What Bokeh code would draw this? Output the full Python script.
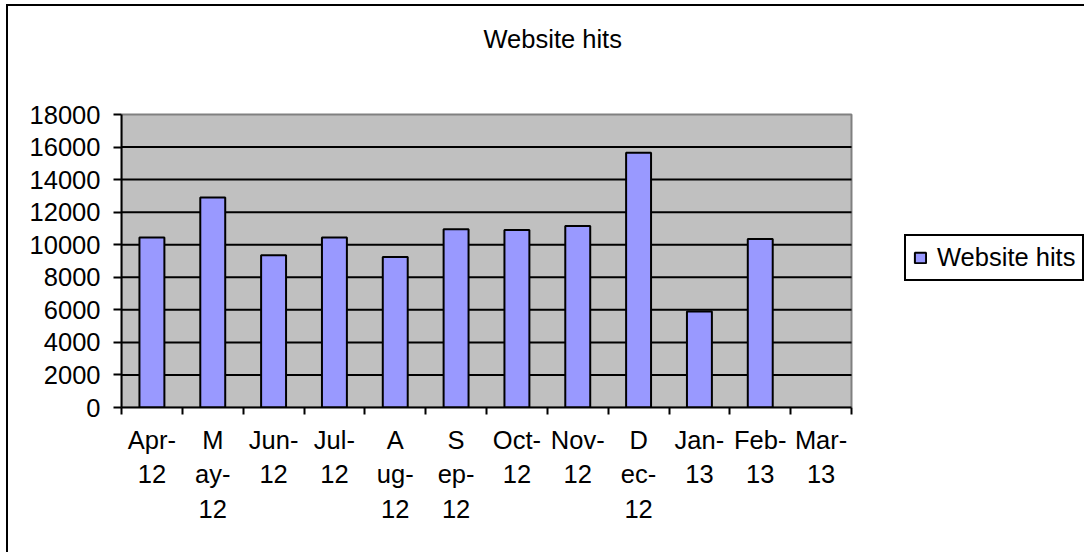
from bokeh.plotting import figure
from bokeh.models import (FixedTicker, Range1d, Legend, LegendItem, Label,
                          ColumnDataSource)
from bokeh.embed import file_html
from bokeh.resources import INLINE

# ---- data ----
months = ["Apr-12", "May-12", "Jun-12", "Jul-12", "Aug-12", "Sep-12",
          "Oct-12", "Nov-12", "Dec-12", "Jan-13", "Feb-13", "Mar-13"]
month_labels = ["Apr-\n12", "M\nay-\n12", "Jun-\n12", "Jul-\n12", "A\nug-\n12",
                "S\nep-\n12", "Oct-\n12", "Nov-\n12", "D\nec-\n12", "Jan-\n13",
                "Feb-\n13", "Mar-\n13"]
hits = [10450, 12900, 9350, 10450, 9250, 10950, 10900, 11150, 15650, 5900, 10350]
y_ticks = [0, 2000, 4000, 6000, 8000, 10000, 12000, 14000, 16000, 18000]
chart_title = "Website hits"
series_name = "Website hits"

# ---- layout / style ----
FONT = "Liberation Sans"
FS = "25.5px"
W, H = 1078, 548            # canvas size
LEFT, BOTTOM = 113, 147     # room for the axes
AREA_W, AREA_H = 730, 293   # pixel size of the grey plot area

n = len(months)
y_max = y_ticks[-1]
frame_w, frame_h = W - LEFT, H - BOTTOM
x_end = n * frame_w / AREA_W
y_end = y_max * frame_h / AREA_H

centers = [i + 0.5 for i in range(n)]
bounds = [i for i in range(n + 1)]

src = ColumnDataSource(dict(x=centers[:len(hits)], top=hits, month=months[:len(hits)]))
grid_src = ColumnDataSource(dict(y=y_ticks[1:-1]))

p = figure(width=W, height=H,
           x_range=Range1d(0, x_end), y_range=Range1d(0, y_end),
           output_backend="svg", toolbar_location=None,
           min_border_left=LEFT, min_border_right=0,
           min_border_top=0, min_border_bottom=BOTTOM,
           background_fill_color="white", border_fill_color="white",
           outline_line_color=None)
p.margin = (4, 0, 0, 6)
p.styles = {"border-left": "2px solid black", "border-top": "2px solid black",
            "border-right": "none", "border-bottom": "none"}
p.xgrid.grid_line_color = None
p.ygrid.grid_line_color = None

# grey plot area with its darker top/right edge
p.quad(left=0, right=n, bottom=0, top=y_max,
       fill_color="#C0C0C0", line_color="#808080", line_width=2)
# horizontal gridlines
p.segment(x0=0, x1=n, y0="y", y1="y", source=grid_src,
          line_color="black", line_width=2)

r = p.vbar(x="x", top="top", bottom=0, width=0.41, source=src,
           fill_color="#9999FF", line_color="black", line_width=2)

# y axis
ya = p.yaxis[0]
ya.bounds = (0, y_max)
ya.ticker = FixedTicker(ticks=y_ticks)
ya.axis_line_color = "black"
ya.axis_line_width = 2
ya.major_tick_out = 8
ya.major_tick_in = 0
ya.major_tick_line_width = 2
ya.minor_tick_line_color = None
ya.major_label_text_font = FONT
ya.major_label_text_font_size = FS
ya.major_label_text_color = "black"
ya.major_label_standoff = 13

# x axis
xa = p.xaxis[0]
xa.bounds = (0, n)
xa.ticker = FixedTicker(ticks=centers, minor_ticks=bounds)
xa.major_label_overrides = {c: lab for c, lab in zip(centers, month_labels)}
xa.axis_line_color = "black"
xa.axis_line_width = 2
xa.major_tick_out = 0
xa.major_tick_in = 0
xa.minor_tick_out = 7
xa.minor_tick_in = 0
xa.minor_tick_line_width = 2
xa.minor_tick_line_color = "black"
xa.major_label_text_font = FONT
xa.major_label_text_font_size = FS
xa.major_label_text_color = "black"
xa.major_label_text_line_height = 1.24
xa.major_label_standoff = 11

# title
p.add_layout(Label(x=362, y=369, x_units="screen", y_units="screen",
                   text=chart_title, text_align="left", text_baseline="middle",
                   text_font=FONT, text_font_size=FS, text_color="black"))

# legend
leg = Legend(items=[LegendItem(label=series_name, renderers=[r])],
             location=(783, 126), orientation="vertical",
             border_line_color="black", border_line_width=2, border_line_alpha=1,
             background_fill_color="white", background_fill_alpha=1,
             padding=7, margin=0, spacing=0,
             glyph_width=14, glyph_height=13, label_standoff=10,
             label_text_font=FONT, label_text_font_size=FS,
             label_text_color="black")
p.add_layout(leg, "center")

open("out.html", "w").write(file_html(p, INLINE))
